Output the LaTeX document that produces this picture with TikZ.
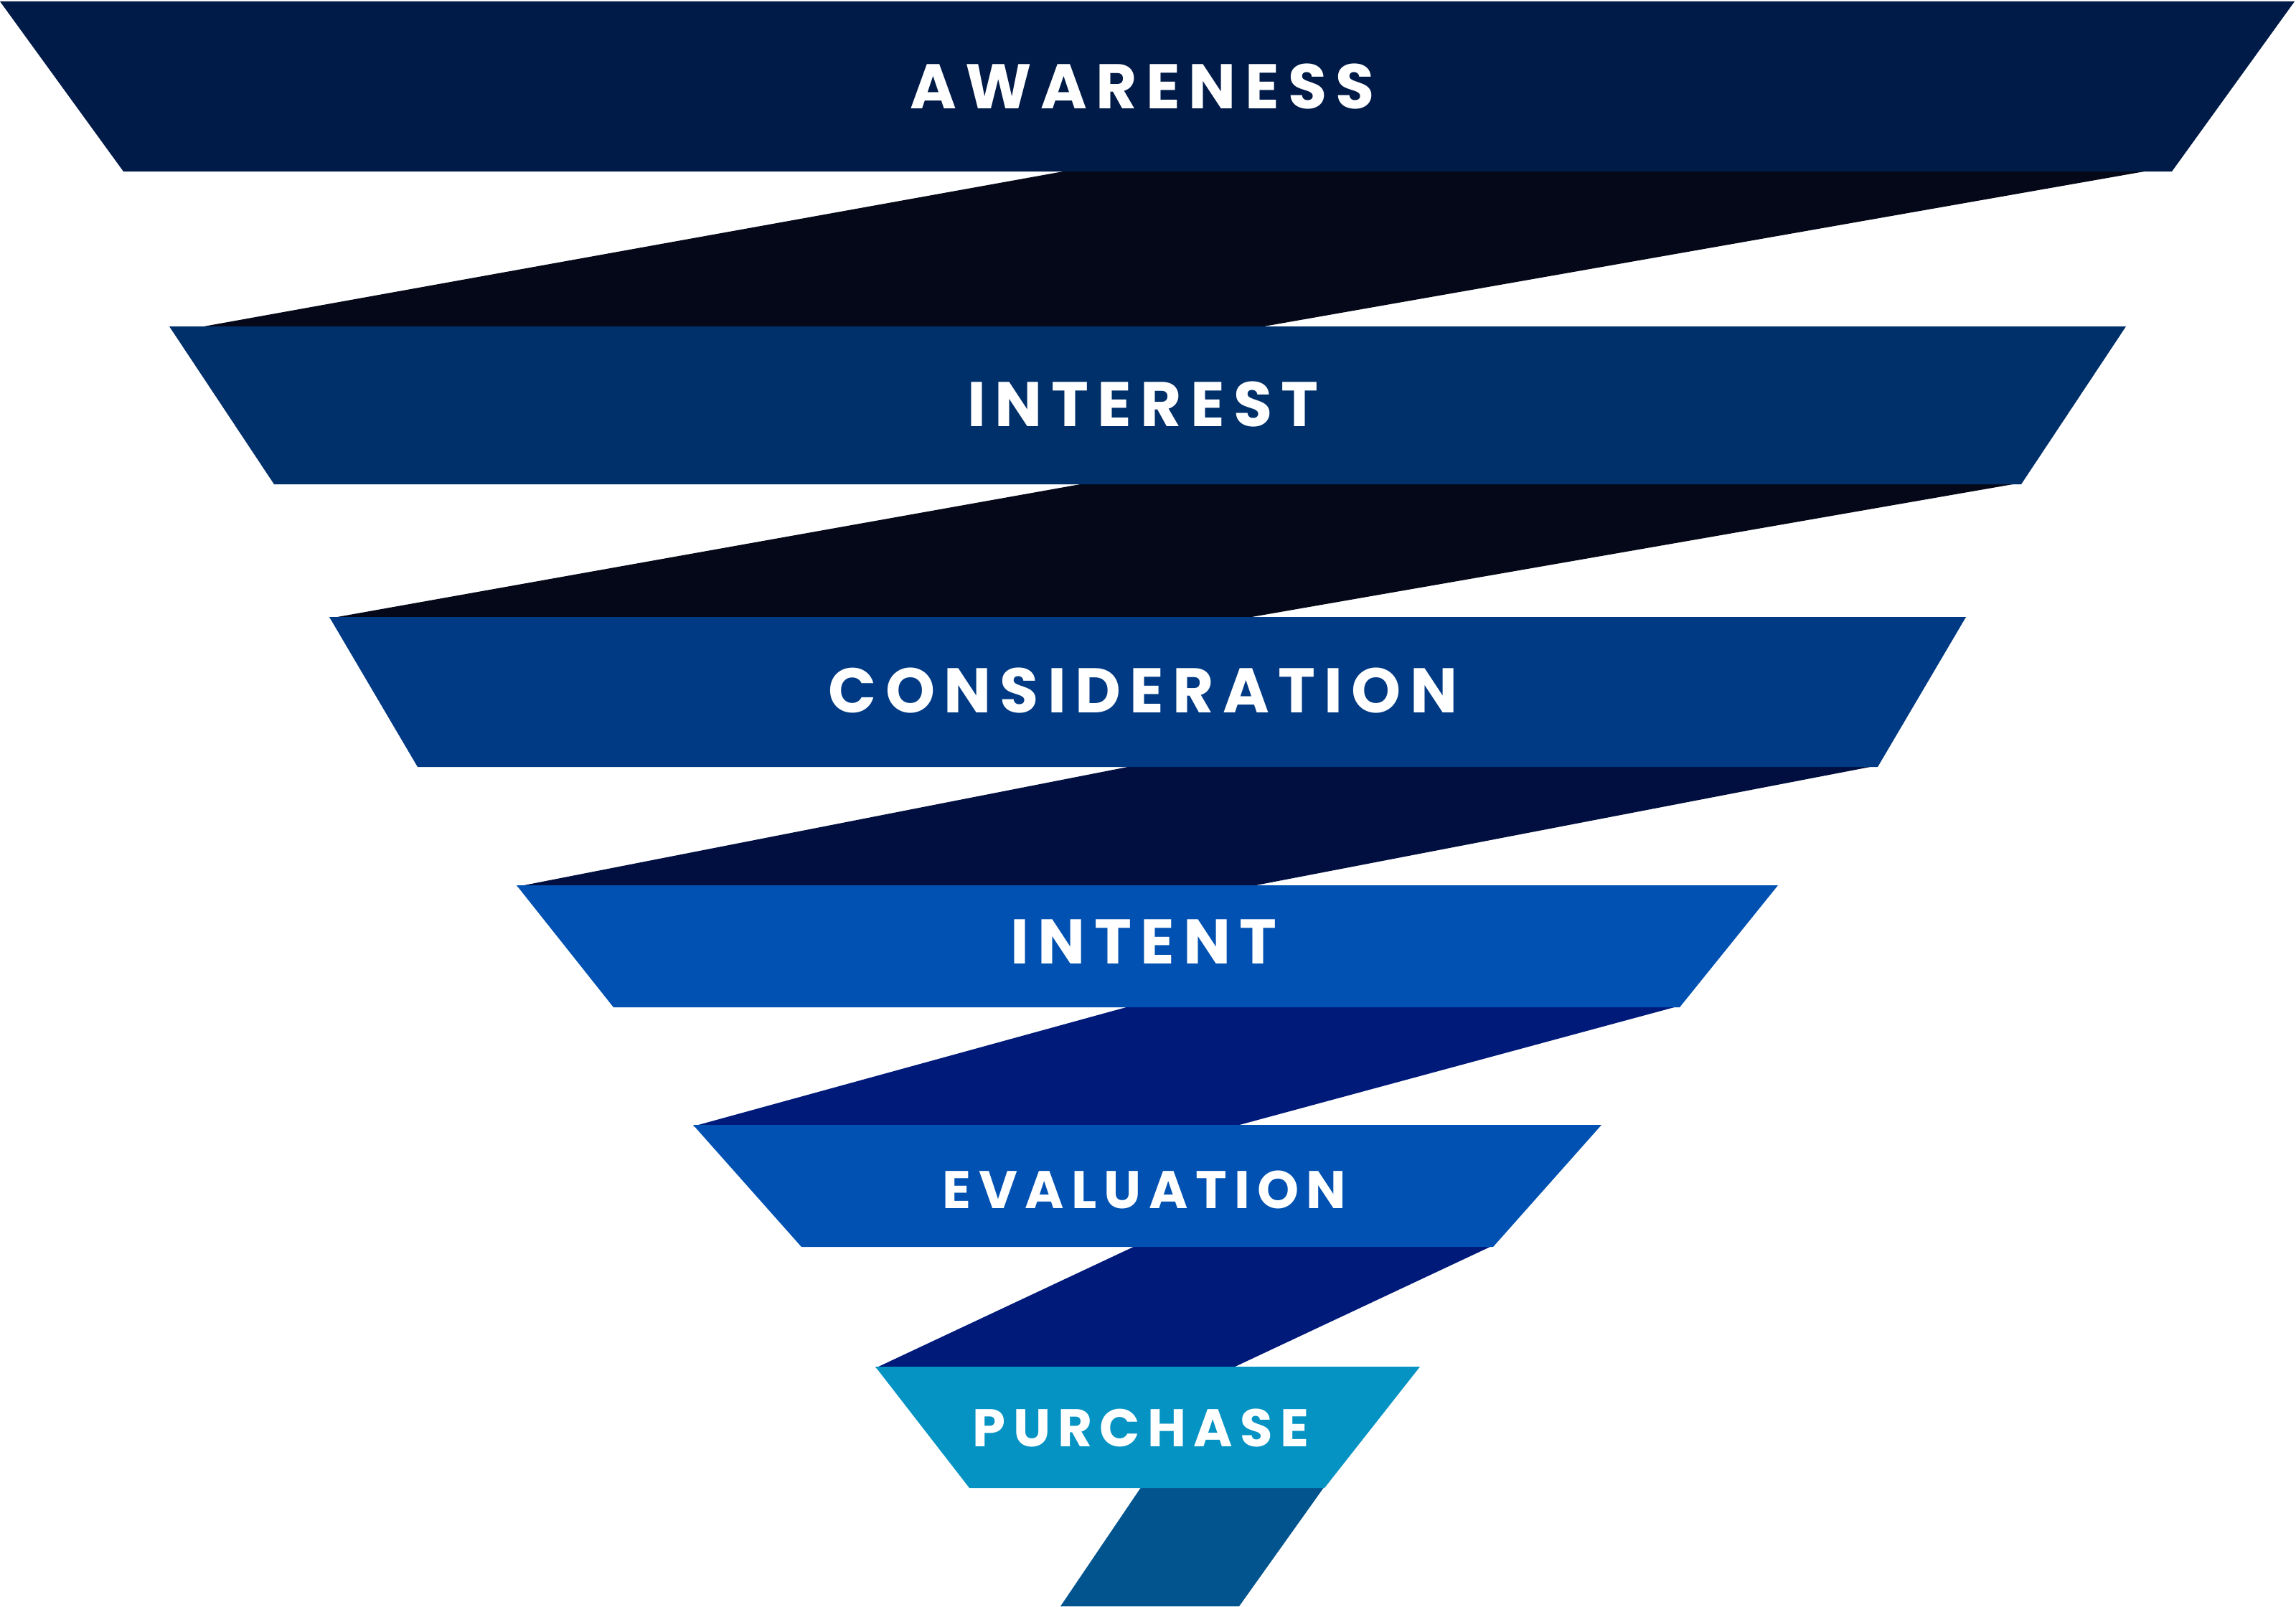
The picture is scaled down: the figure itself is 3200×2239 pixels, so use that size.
\documentclass[tikz,border=0pt]{standalone}
\usepackage{fontspec}
\newfontfamily\lblfont{Poppins}[LetterSpace=14]
\definecolor{cAw}{HTML}{001B48}
\definecolor{cDk}{HTML}{040818}
\definecolor{cIn}{HTML}{00306A}
\definecolor{cCo}{HTML}{003A84}
\definecolor{cCt}{HTML}{000F3F}
\definecolor{cIt}{HTML}{0051B1}
\definecolor{cCf}{HTML}{001A7A}
\definecolor{cPu}{HTML}{0593C3}
\definecolor{cBt}{HTML}{02548F}
\begin{document}
\begin{tikzpicture}[x=0.01cm,y=-0.01cm,
  lblbig/.style={text=white, inner sep=0pt, anchor=base,
    font=\lblfont\bfseries\fontsize{25}{25}\selectfont},
  lblsmall/.style={text=white, inner sep=0pt, anchor=base,
    font=\lblfont\bfseries\fontsize{21}{21}\selectfont}]
\useasboundingbox[fill=white] (0,0) rectangle (3200,2239);
% connectors (behind)
\fill[cDk] (1493,237) -- (3000,237) -- (1750,457) -- (273,457) -- cycle;
\fill[cDk] (1517,673) -- (2817,673) -- (1733,862) -- (459,862) -- cycle;
\fill[cCt] (1582,1067) -- (2617,1067) -- (1740,1236) -- (720,1236) -- cycle;
\fill[cCf] (1577,1402) -- (2341,1402) -- (1720,1570) -- (966,1570) -- cycle;
\fill[cCf] (1584,1736) -- (2081,1736) -- (1717,1907) -- (1220,1907) -- cycle;
\fill[cBt] (1591,2072) -- (1846,2072) -- (1727,2239) -- (1478,2239) -- cycle;
% bands
\fill[cAw] (0,2) -- (3198,2) -- (3027,239) -- (172,239) -- cycle;
\fill[cIn] (236,455) -- (2963,455) -- (2817,675) -- (382,675) -- cycle;
\fill[cCo] (459,860) -- (2740,860) -- (2617,1069) -- (582,1069) -- cycle;
\fill[cIt] (720,1234) -- (2478,1234) -- (2341,1404) -- (855,1404) -- cycle;
\fill[cIt] (966,1568) -- (2232,1568) -- (2081,1738) -- (1117,1738) -- cycle;
\fill[cPu] (1220,1905) -- (1979,1905) -- (1846,2074) -- (1351,2074) -- cycle;
% labels
\node[lblbig] (awareness) at (1592,151) {AWARENESS};
\node[lblbig] (interest) at (1593,594) {INTEREST};
\node[lblbig] (consideration) at (1593,993) {CONSIDERATION};
\node[lblbig] (intent) at (1594,1343) {INTENT};
\node[lblsmall] (evaluation) at (1595,1684) {EVALUATION};
\node[lblsmall] (purchase) at (1590,2016) {PURCHASE};
\end{tikzpicture}
\end{document}
